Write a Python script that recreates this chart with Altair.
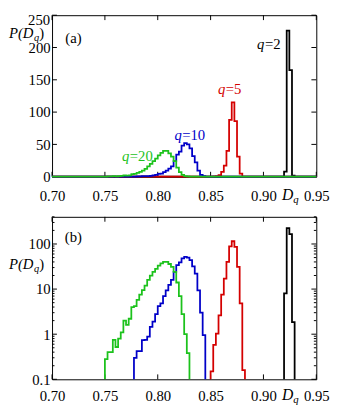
import altair as alt
import pandas as pd

# ---------------- data ----------------
BIN = 0.0025  # histogram bin width in D_q

X_TICKS = [0.70, 0.75, 0.80, 0.85, 0.90, 0.95]
YA_TICKS = [0, 50, 100, 150, 200, 250]
YB_MAJOR = [0.1, 1, 10, 100]
YB_MINOR = [0.2, 0.3, 0.4, 0.5, 0.6, 0.7, 0.8, 0.9,
            2, 3, 4, 5, 6, 7, 8, 9,
            20, 30, 40, 50, 60, 70, 80, 90,
            200, 300, 400]

series_names = ["q=2", "q=5", "q=10", "q=20"]
series_starts = [0.9195, 0.8500, 0.7775, 0.7500]
black_vals = [8.0, 226.0, 165.0, 1.85]
red_vals = [0.15, 0.58, 1.03, 2.6, 7.5, 17, 40, 88, 115, 86, 31, 4.8, 0.16]
blue_vals = [0.30, 0.42, 0.42, 0.74, 0.75, 0.88, 1.45, 1.9, 2.8, 4.2,
             4.8, 7.0, 9.4, 12.4, 16, 24, 34, 39, 48, 52,
             50, 44, 32, 22, 9.4, 3.0, 0.95]
green_vals = [0.28, 0.40, 0.40, 0.75, 0.52, 0.80, 1.1, 2.0, 1.6, 2.2,
              4.0, 4.2, 5.8, 7.5, 9.5, 12, 16, 20, 24, 28,
              33, 37, 40, 40, 36, 31, 24, 14, 7.0, 2.8,
              1.0, 0.38]
series_vals = [black_vals, red_vals, blue_vals, green_vals]
series_colors = ["#000000", "#d40000", "#0000c8", "#1cc21c"]

# label anchors (data coords) for q labels: boundary between "q" and "=n"
label_q = ["q", "q", "q", "q"]
label_rest = ["=2", "=5", "=10", "=20"]
label_x = [0.9009, 0.8639, 0.8227, 0.7731]
label_y = [205, 135, 65, 32]

panel_tags = ["(a)", "(b)"]
panel_tag_x = [0.7202, 0.7202]
panel_tag_y = [215, 140]

# ---------------- layout / style ----------------
W = 270
HA, HB = 165, 166
FONT = "Liberation Serif"
FS = 15
LW = 1.8


def step_df(start, vals, base, lo=None, hi=None):
    xs, ys = [], []
    if lo is not None:
        xs.append(lo); ys.append(base)
    xs.append(start); ys.append(base)
    for i, v in enumerate(vals):
        xs += [start + i * BIN, start + (i + 1) * BIN]
        ys += [v, v]
    end = start + len(vals) * BIN
    xs.append(end); ys.append(base)
    if hi is not None:
        xs.append(hi); ys.append(base)
    return pd.DataFrame({"x": xs, "y": ys, "i": list(range(len(xs)))})


def x_enc(pad):
    return alt.X("x:Q",
                 scale=alt.Scale(domain=[0.70, 0.95], nice=False, zero=False),
                 axis=alt.Axis(values=X_TICKS, format=".2f", ticks=False, tickSize=0,
                               domain=False, grid=False, title=None,
                               labelPadding=pad, labelFont=FONT, labelFontSize=FS,
                               labelColor="black", labelFlush=False, labelOverlap=False))


def panel(H, y_scale, y_axis, yticks_major, yticks_minor, base, lo, hi,
          tag_i, xpad, ptitle_base, dq_base):
    X = x_enc(xpad)
    Y = alt.Y("y:Q", scale=y_scale, axis=y_axis)
    layers = []
    # inward ticks on all four sides
    xt = pd.DataFrame({"x": X_TICKS})
    layers.append(alt.Chart(xt).mark_rule(color="black", strokeWidth=1).encode(
        x=X, y=alt.value(H), y2=alt.value(H - 5)))
    layers.append(alt.Chart(xt).mark_rule(color="black", strokeWidth=1).encode(
        x=X, y=alt.value(0), y2=alt.value(5)))
    ytm = pd.DataFrame({"y": yticks_major})
    layers.append(alt.Chart(ytm).mark_rule(color="black", strokeWidth=1).encode(
        y=Y, x=alt.value(0), x2=alt.value(5)))
    layers.append(alt.Chart(ytm).mark_rule(color="black", strokeWidth=1).encode(
        y=Y, x=alt.value(W - 5), x2=alt.value(W)))
    if yticks_minor:
        ytn = pd.DataFrame({"y": yticks_minor})
        layers.append(alt.Chart(ytn).mark_rule(color="black", strokeWidth=1).encode(
            y=Y, x=alt.value(0), x2=alt.value(2.5)))
        layers.append(alt.Chart(ytn).mark_rule(color="black", strokeWidth=1).encode(
            y=Y, x=alt.value(W - 2.5), x2=alt.value(W)))
    # histogram outlines
    for s, v, c in zip(series_starts, series_vals, series_colors):
        df = step_df(s, v, base, lo, hi)
        layers.append(alt.Chart(df).mark_line(color=c, strokeWidth=LW, interpolate="linear",
                                              strokeJoin="miter").encode(
            x=X, y=Y, order="i:Q"))
    # panel tag
    tdf = pd.DataFrame({"x": [panel_tag_x[tag_i]], "y": [panel_tag_y[tag_i]],
                        "t": [panel_tags[tag_i]]})
    layers.append(alt.Chart(tdf).mark_text(font=FONT, fontSize=FS, color="black",
                                           baseline="middle", align="center").encode(
        x=X, y=Y, text="t:N"))
    # P(D_q) title
    one = pd.DataFrame({"k": [0]})
    layers.append(alt.Chart(one).mark_text(text="P(D", font=FONT, fontSize=15,
                                           fontStyle="italic", align="right",
                                           baseline="alphabetic", color="black").encode(
        x=alt.value(-19), y=alt.value(ptitle_base)))
    layers.append(alt.Chart(one).mark_text(text="q", font=FONT, fontSize=10.5,
                                           fontStyle="italic", align="left",
                                           baseline="alphabetic", color="black").encode(
        x=alt.value(-18.5), y=alt.value(ptitle_base + 3)))
    layers.append(alt.Chart(one).mark_text(text=")", font=FONT, fontSize=15,
                                           align="left", baseline="alphabetic",
                                           color="black").encode(
        x=alt.value(-13), y=alt.value(ptitle_base)))
    # D_q axis title
    layers.append(alt.Chart(one).mark_text(text="D", font=FONT, fontSize=16,
                                           fontStyle="italic", align="left",
                                           baseline="alphabetic", color="black").encode(
        x=alt.value(235), y=alt.value(H + dq_base)))
    layers.append(alt.Chart(one).mark_text(text="q", font=FONT, fontSize=11,
                                           fontStyle="italic", align="left",
                                           baseline="alphabetic", color="black").encode(
        x=alt.value(246.5), y=alt.value(H + dq_base + 3)))
    return layers


# ---------- panel (a): linear ----------
ya_axis = alt.Axis(values=YA_TICKS[:-1], format="d", ticks=False, tickSize=0, domain=False,
                   grid=False, title=None, labelPadding=2, labelFont=FONT,
                   labelFontSize=FS, labelColor="black", labelOverlap=False)
ya_scale = alt.Scale(domain=[0, 250], nice=False)
layers_a = panel(HA, ya_scale, ya_axis, YA_TICKS, None, 0, 0.70, 0.95, 0, 12, 23, 24)
# top y label, kept just inside the page top
layers_a.append(alt.Chart(pd.DataFrame({"t": [str(YA_TICKS[-1])]})).mark_text(
    font=FONT, fontSize=FS, color="black", align="right", baseline="top").encode(
    x=alt.value(-2), y=alt.value(-2), text="t:N"))
# q labels (panel a only)
ldf = pd.DataFrame({"x": label_x, "y": label_y, "q": label_q, "r": label_rest,
                    "c": series_colors})
Xa = x_enc(12)
Ya = alt.Y("y:Q", scale=ya_scale, axis=ya_axis)
layers_a.append(alt.Chart(ldf).mark_text(font=FONT, fontSize=FS, fontStyle="italic",
                                         align="right", baseline="middle").encode(
    x=Xa, y=Ya, text="q:N", color=alt.Color("c:N", scale=None)))
layers_a.append(alt.Chart(ldf).mark_text(font=FONT, fontSize=FS, align="left",
                                         baseline="middle", dx=0.5).encode(
    x=Xa, y=Ya, text="r:N", color=alt.Color("c:N", scale=None)))
panel_a = alt.layer(*layers_a).properties(width=W, height=HA)

# ---------- panel (b): log ----------
yb_axis = alt.Axis(values=YB_MAJOR, format="~g", ticks=False, tickSize=0, domain=False,
                   grid=False, title=None, labelPadding=2, labelFont=FONT,
                   labelFontSize=FS, labelColor="black", labelOverlap=False)
layers_b = panel(HB, alt.Scale(type="log", domain=[0.1, 400], nice=False), yb_axis,
                 YB_MAJOR, YB_MINOR, 0.1, None, None, 1, 9.6, 53.5, 21)
panel_b = alt.layer(*layers_b).properties(width=W, height=HB)

chart = alt.vconcat(panel_a, panel_b, spacing=41, bounds="flush").properties(
    padding={"left": 0, "top": 0, "right": 0, "bottom": 0}
).configure_view(stroke="black", strokeWidth=1)

chart.save("out.html", embed_options={"renderer": "svg", "actions": False})
